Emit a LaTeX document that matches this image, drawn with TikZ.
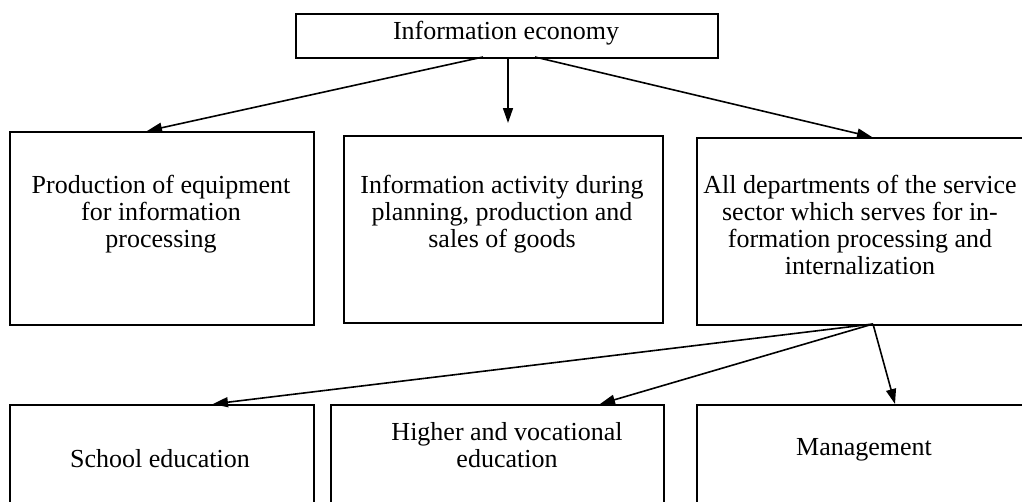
\documentclass[tikz,border=0pt]{standalone}
\usepackage{fontspec}
\setmainfont{Liberation Serif}
\usetikzlibrary{arrows.meta}
\begin{document}
\begin{tikzpicture}[x=1pt,y=-1pt,
  box/.style={draw, line width=1.8pt, inner sep=0pt, anchor=north west},
  txt/.style={align=center, font=\fontsize{26}{27}\selectfont, inner sep=0pt, anchor=base},
  arr/.style={line width=1.6pt, -{Triangle[length=15pt,width=10pt]}}]
\useasboundingbox (0,0) rectangle (1022,501);
\clip (0,0) rectangle (1022,501);
% boxes
\node[box, minimum width=422pt, minimum height=44pt] (top) at (295,13) {};
\node[box, minimum width=304pt, minimum height=193pt] (b1) at (9,131) {};
\node[box, minimum width=319pt, minimum height=187pt] (b2) at (343,135) {};
\node[box, minimum width=325.5pt, minimum height=187pt] (b3) at (696,137) {};
\node[box, minimum width=304pt, minimum height=130pt] (c1) at (9,404) {};
\node[box, minimum width=333pt, minimum height=130pt] (c2) at (330,404) {};
\node[box, minimum width=350pt, minimum height=130pt] (c3) at (696,404) {};
% texts (base anchor = baseline of the last line)
\node[txt] (ttop) at (506,39.3) {Information economy};
\node[txt] (tb1) at (161,247) {Production of equipment\\for information\\processing};
\node[txt] (tb2) at (502,247) {Information activity during\\planning, production and\\sales of goods};
\node[txt] (tb3) at (860,274) {All departments of the service\\sector which serves for in-\\formation processing and\\internalization};
\node[txt] (tc1) at (160,467) {School education};
\node[txt] (tc2) at (507,467) {Higher and vocational\\education};
\node[txt] (tc3) at (864,455) {Management};
% connector ends
\coordinate (s1) at (483,57);
\coordinate (s2) at (508,57);
\coordinate (s3) at (535,57);
\coordinate (e1) at (147,131);
\coordinate (e2) at (508,123);
\coordinate (e3) at (872,137);
\coordinate (s4) at (873,324);
\coordinate (e4) at (213,404);
\coordinate (e5) at (600,404);
\coordinate (e6) at (895,404);
\draw[arr] (s1) -- (e1);
\draw[arr] (s2) -- (e2);
\draw[arr] (s3) -- (e3);
\draw[arr] (s4) -- (e4);
\draw[arr] (s4) -- (e5);
\draw[arr] (s4) -- (e6);
\end{tikzpicture}
\end{document}
